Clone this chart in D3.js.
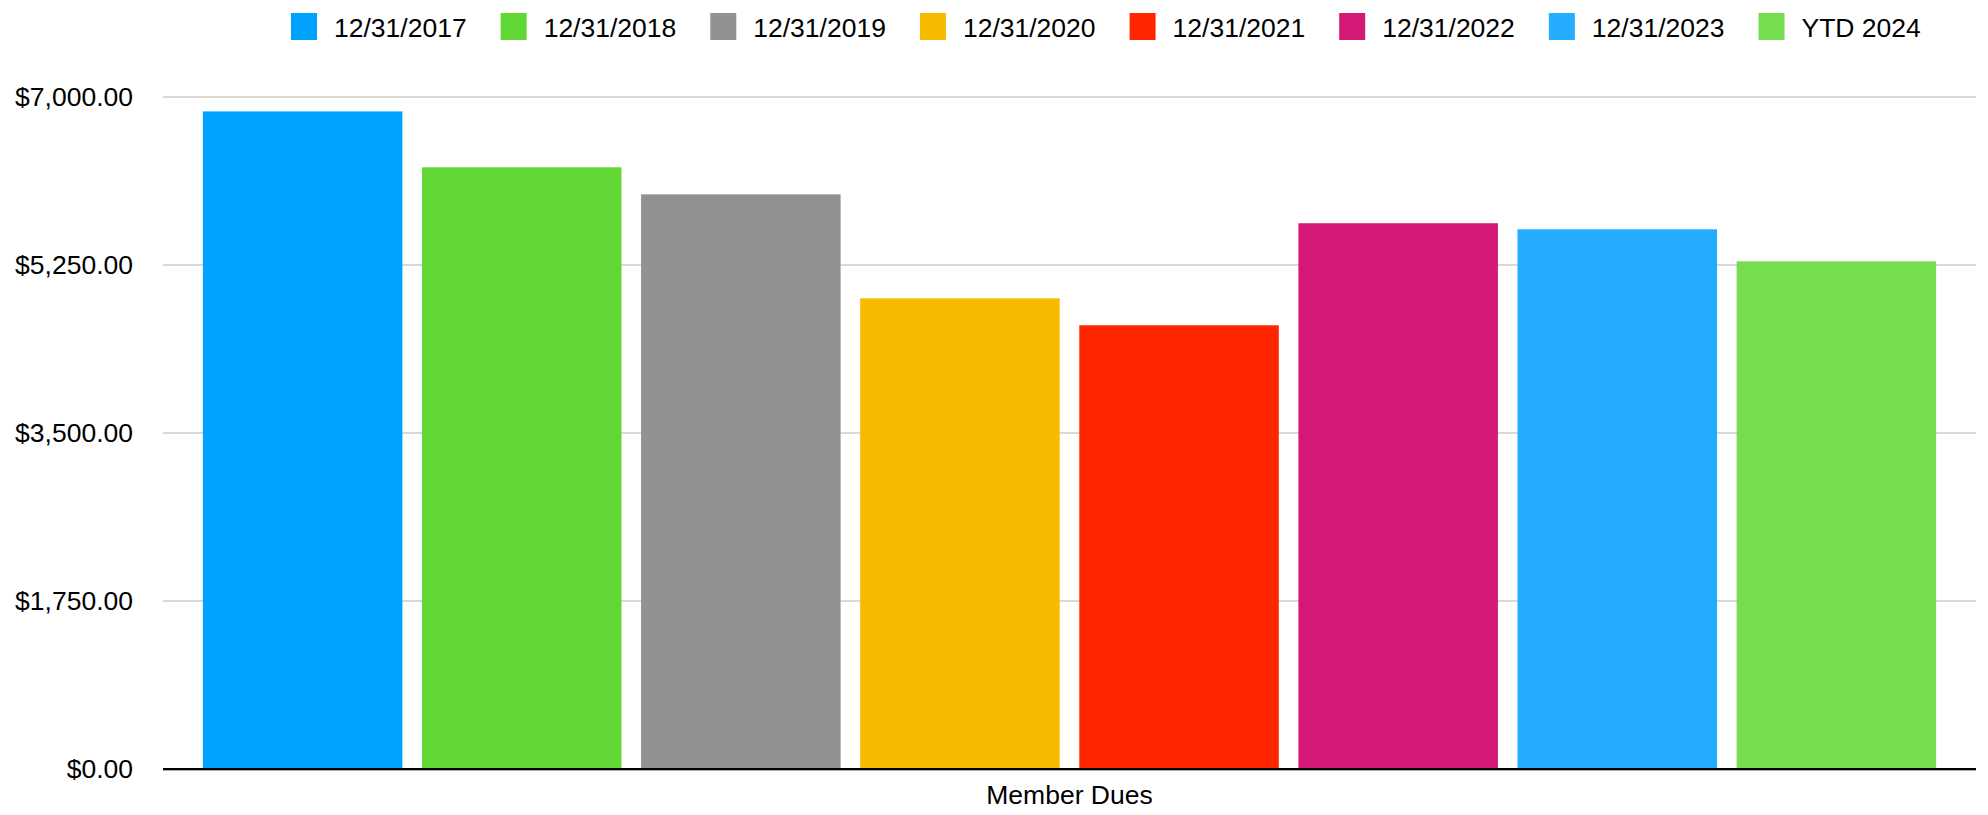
<!DOCTYPE html>
<html>
<head>
<meta charset="utf-8">
<script src="https://cdn.jsdelivr.net/npm/d3@7"></script>
<style>
  body { margin: 0; background: #fff; }
  text { font-family: "Liberation Sans", Arial, Helvetica, sans-serif; fill: #000; }
</style>
</head>
<body>
<div id="chart"></div>
<script>
var width = 1988;
var height = 815;

// data
var category = "Member Dues";
var periods = ["12/31/2017", "12/31/2018", "12/31/2019", "12/31/2020",
               "12/31/2021", "12/31/2022", "12/31/2023", "YTD 2024"];
var dues = [6850, 6268, 5986, 4903, 4622, 5685, 5622, 5288];
var yTicks = [0, 1750, 3500, 5250, 7000];
var colors = ["#00a2ff", "#61d836", "#929292", "#f8ba00",
              "#ff2600", "#d31876", "#24adfe", "#76dd4e"];

var margin = {top: 97, right: 12, bottom: 46, left: 163};

var svg = d3.select("#chart").append("svg")
    .attr("width", width)
    .attr("height", height);

var xScale = d3.scaleBand()
    .domain(periods)
    .range([margin.left, width - margin.right])
    .paddingInner(0.0894)
    .paddingOuter(0.182);

var yScale = d3.scaleLinear()
    .domain([0, 7000])
    .range([height - margin.bottom, margin.top]);

var fmt = d3.format("$,.2f");

// gridlines
svg.append("g")
    .selectAll("line")
    .data(yTicks)
    .enter()
    .append("line")
    .attr("x1", margin.left)
    .attr("x2", width - margin.right)
    .attr("y1", function(d) { return yScale(d); })
    .attr("y2", function(d) { return yScale(d); })
    .attr("stroke", "#cdcdcd")
    .attr("stroke-width", 1.5);

// y axis labels
var yAxis = d3.axisLeft(yScale)
    .tickValues(yTicks)
    .tickFormat(fmt)
    .tickSize(0)
    .tickPadding(30);

svg.append("g")
    .attr("transform", "translate(" + margin.left + ",0)")
    .call(yAxis)
    .call(function(g) { g.select(".domain").remove(); })
    .selectAll("text")
    .style("font-family", "'Liberation Sans', Arial, sans-serif")
    .style("font-size", "26.5px")
    .attr("fill", "#000");

// bars
svg.selectAll("rect.bar")
    .data(dues)
    .enter()
    .append("rect")
    .attr("class", "bar")
    .attr("x", function(d, i) { return xScale(periods[i]); })
    .attr("y", function(d) { return yScale(d); })
    .attr("width", xScale.bandwidth())
    .attr("height", function(d) { return yScale(0) - yScale(d); })
    .attr("fill", function(d, i) { return colors[i]; });

// baseline
svg.append("line")
    .attr("x1", margin.left)
    .attr("x2", width - margin.right)
    .attr("y1", yScale(0) + 1.5)
    .attr("y2", yScale(0) + 1.5)
    .attr("stroke", "#aaa")
    .attr("stroke-width", 1);
svg.append("line")
    .attr("x1", margin.left)
    .attr("x2", width - margin.right)
    .attr("y1", yScale(0))
    .attr("y2", yScale(0))
    .attr("stroke", "#000")
    .attr("stroke-width", 2.2);

// category label
svg.append("text")
    .attr("x", (margin.left + width - margin.right) / 2)
    .attr("y", 804)
    .attr("text-anchor", "middle")
    .style("font-size", "26.5px")
    .text(category);

// legend, items laid out by text width
var legend = svg.append("g");
var lx = 291;
periods.forEach(function(p, i) {
    legend.append("rect")
        .attr("x", lx)
        .attr("y", 13)
        .attr("width", 26)
        .attr("height", 27)
        .attr("fill", colors[i]);
    var t = legend.append("text")
        .attr("x", lx + 26 + 17)
        .attr("y", 36.5)
        .style("font-size", "26.5px")
        .text(p);
    lx = lx + 26 + 17 + t.node().getComputedTextLength() + 34;
});
</script>
</body>
</html>
